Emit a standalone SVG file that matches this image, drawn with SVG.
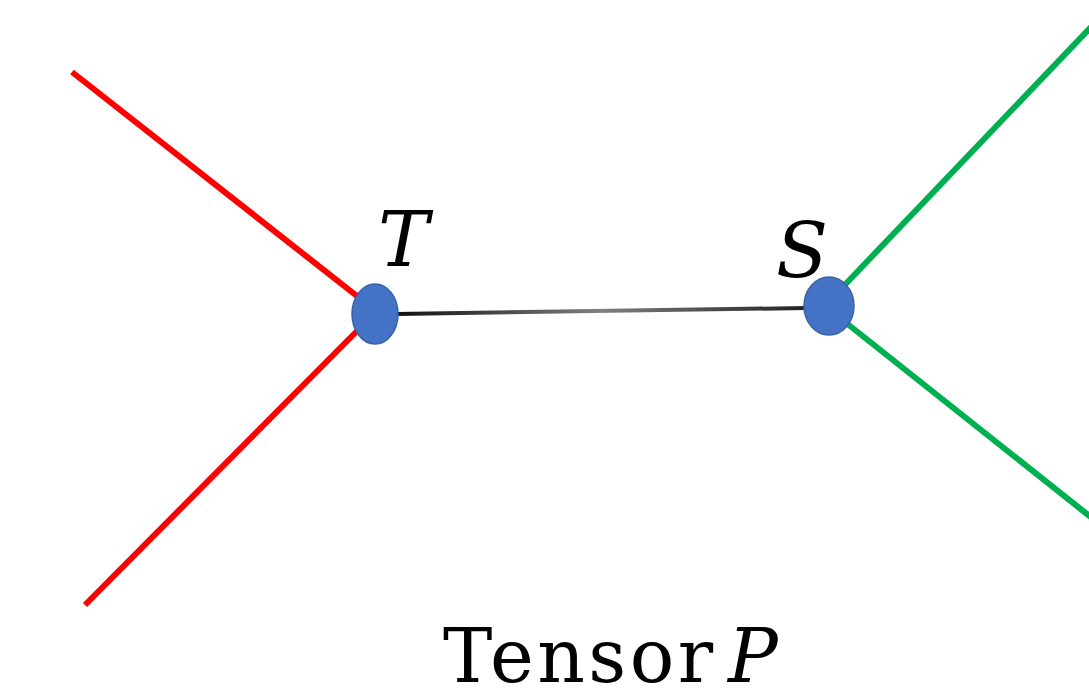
<svg xmlns="http://www.w3.org/2000/svg" width="1089" height="700" viewBox="0 0 1089 700">
  <defs>
    <linearGradient id="bond" x1="398" y1="314" x2="805" y2="308" gradientUnits="userSpaceOnUse">
      <stop offset="0" stop-color="#111111"/>
      <stop offset="0.5" stop-color="#808080"/>
      <stop offset="1" stop-color="#222222"/>
    </linearGradient>
  </defs>
  <style>
    .red { stroke: #ff0000; stroke-width: 6; fill: none; }
    .green { stroke: #00b050; stroke-width: 6; fill: none; }
    .node { fill: #4472c4; stroke: #3a62a8; stroke-width: 1.5; }
    .lbl { font-family: "DejaVu Serif", "Liberation Serif", serif; font-size: 76px; fill: #000; }
    .cap { font-size: 74px; }
    .it { font-style: italic; }
  </style>
  <rect width="1089" height="700" fill="#ffffff"/>
  <g id="connectors">
    <line class="red" x1="72" y1="72" x2="362" y2="300"/>
    <line class="red" x1="85" y1="605" x2="362" y2="326"/>
    <line class="green" x1="838" y1="292" x2="1092" y2="26"/>
    <line class="green" x1="840" y1="318" x2="1092" y2="518"/>
    <line x1="396" y1="314" x2="806" y2="308" stroke="url(#bond)" stroke-width="4"/>
  </g>
  <g id="node-T">
    <ellipse class="node" cx="375" cy="314" rx="23" ry="30"/>
    <text class="lbl it" x="378" y="266">T</text>
  </g>
  <g id="node-S">
    <ellipse class="node" cx="829" cy="306" rx="25" ry="29"/>
    <text class="lbl it" x="776" y="277">S</text>
  </g>
  <g id="caption">
    <text class="lbl cap" x="443" y="682" textLength="270" lengthAdjust="spacing">Tensor</text>
    <text class="lbl cap it" x="728" y="682">P</text>
  </g>
</svg>
